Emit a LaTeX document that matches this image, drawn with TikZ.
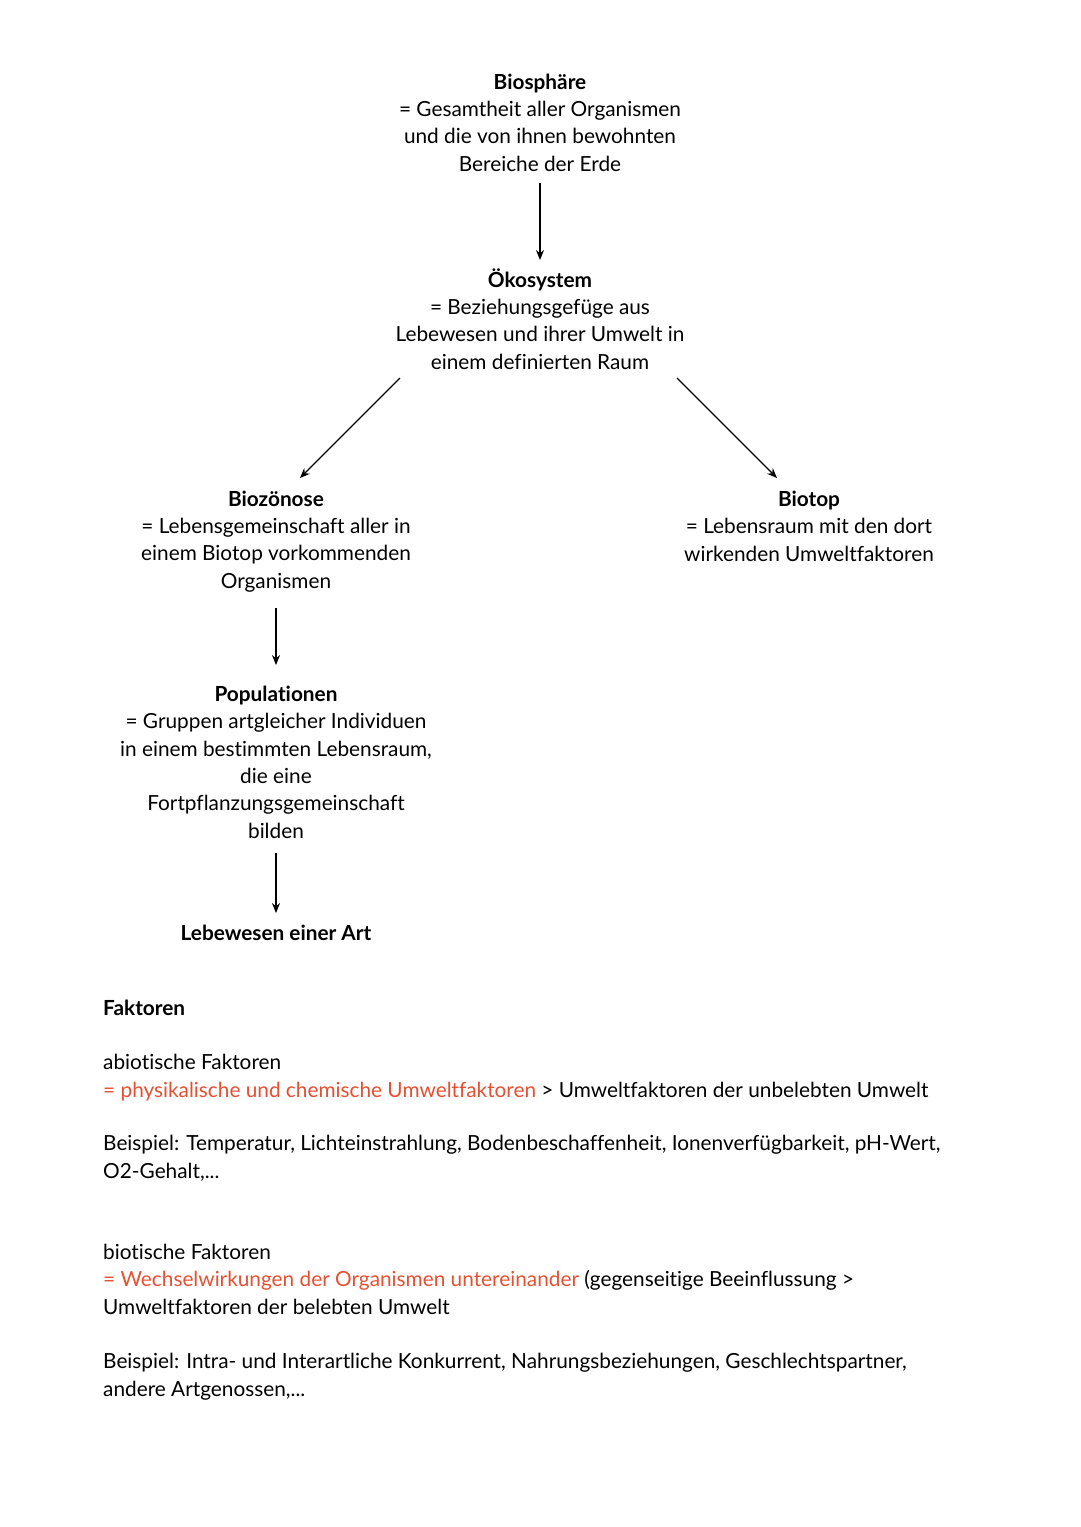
\documentclass[tikz,border=0pt]{standalone}
\usepackage{fontspec}
\setmainfont{Lato}[Ligatures={NoCommon}]
\usetikzlibrary{arrows.meta}
\definecolor{rot}{RGB}{230,80,50}

\begin{document}
\begin{tikzpicture}[x=1pt,y=-1pt,
	txt/.style={align=center,anchor=base,inner sep=0pt,font=\fontsize{20.8}{27.3}\selectfont},
	absatz/.style={align=left,anchor=base west,inner sep=0pt,font=\fontsize{20.8}{27.3}\selectfont},
	pfeil/.style={-{Stealth[length=10pt,width=8pt]},line width=1.3pt}]
	\useasboundingbox(0,0)rectangle(1080,1527);
	\node[txt](bios)at(540,171){\textbf{Biosphäre}\\= Gesamtheit aller Organismen\\und die von ihnen bewohnten\\Bereiche der Erde};
	\node[txt](oeko)at(540,369){\textbf{Ökosystem}\\= Beziehungsgefüge aus\\Lebewesen und ihrer Umwelt in\\einem definierten Raum};
	\node[txt](bioz)at(276,588){\textbf{Biozönose}\\= Lebensgemeinschaft aller in\\einem Biotop vorkommenden\\Organismen};
	\node[txt](biot)at(809,561){\textbf{Biotop}\\= Lebensraum mit den dort\\wirkenden Umweltfaktoren};
	\node[txt](popu)at(276,838){\textbf{Populationen}\\= Gruppen artgleicher Individuen\\in einem bestimmten Lebensraum,\\die eine\\Fortpflanzungsgemeinschaft\\bilden};
	\node[txt](art)at(276,940){\textbf{Lebewesen einer Art}};
	\draw[pfeil]([shift={(0,12)}]bios.base)--([shift={(0,-109)}]oeko.base);
	\draw[pfeil]([shift={(-140,9)}]oeko.base)--([shift={(24,-110)}]bioz.base);
	\draw[pfeil]([shift={(137,9)}]oeko.base)--([shift={(-32,-83)}]biot.base);
	\draw[pfeil]([shift={(0,20)}]bioz.base)--([shift={(0,-173)}]popu.base);
	\draw[pfeil]([shift={(0,15)}]popu.base)--([shift={(0,-27)}]art.base);
	\node[absatz](fakt)at(103,1015){\textbf{Faktoren}};
	\node[absatz](abio)at(103,1097){abiotische Faktoren\\{\color{rot}= physikalische und chemische Umweltfaktoren} > Umweltfaktoren der unbelebten Umwelt};
	\node[absatz](bsp1)at(103,1178){Beispiel: Temperatur, Lichteinstrahlung, Bodenbeschaffenheit, Ionenverfügbarkeit, pH-Wert,\\O2-Gehalt,...};
	\node[absatz](bio)at(103,1314){biotische Faktoren\\{\color{rot}= Wechselwirkungen der Organismen untereinander} (gegenseitige Beeinflussung >\\Umweltfaktoren der belebten Umwelt};
	\node[absatz](bsp2)at(103,1396){Beispiel: Intra- und Interartliche Konkurrent, Nahrungsbeziehungen, Geschlechtspartner,\\andere Artgenossen,...};
\end{tikzpicture}
\end{document}
